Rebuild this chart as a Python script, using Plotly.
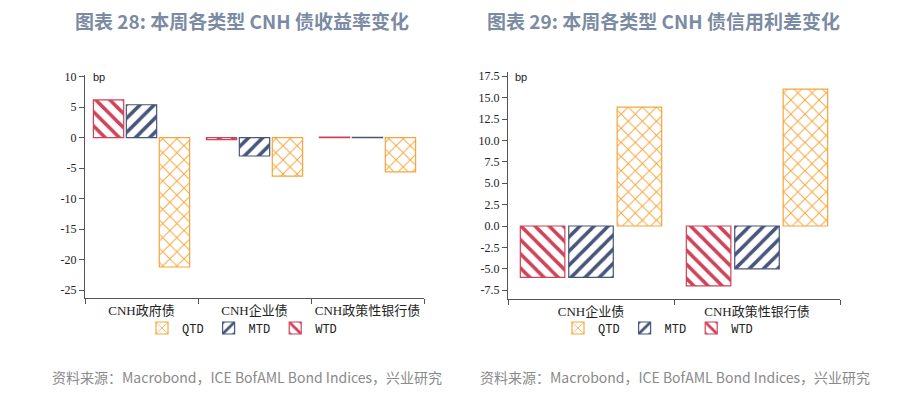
import plotly.graph_objects as go

# ---- data ----
cats_left = ["CNH政府债", "CNH企业债", "CNH政策性银行债"]
wtd_left = [6.2, -0.3, 0.1]
mtd_left = [5.4, -3.0, 0.05]
qtd_left = [-21.2, -6.3, -5.6]

cats_right = ["CNH企业债", "CNH政策性银行债"]
wtd_right = [-6.0, -7.0]
mtd_right = [-6.0, -5.0]
qtd_right = [13.9, 16.0]

left_ticks = [10, 5, 0, -5, -10, -15, -20, -25]
left_ticktext = ["10", "5", "0", "-5", "-10", "-15", "-20", "-25"]
right_ticks = [17.5, 15.0, 12.5, 10.0, 7.5, 5.0, 2.5, 0.0, -2.5, -5.0, -7.5]
right_ticktext = ["17.5", "15.0", "12.5", "10.0", "7.5", "5.0", "2.5", "0.0", "-2.5", "-5.0", "-7.5"]

title_left = "图表 28: 本周各类型 CNH 债收益率变化"
title_right = "图表 29: 本周各类型 CNH 债信用利差变化"
source_text = "资料来源：Macrobond，ICE BofAML Bond Indices，兴业研究"

# ---- layout helpers (page body has an 8px margin) ----
OFF = 8
W, H = 914 - OFF, 393 - OFF


def px(x):
    return (x - OFF) / W


def py(y):
    return 1 - (y - OFF) / H


# ---- styles ----
RED = "#cf4358"
BLUE = "#46557a"
ORANGE = "#f5a53a"
AXIS = "#555555"
SERIF = "Liberation Serif, Noto Sans CJK SC, serif"

series_style = {
    "WTD": (RED, "\\", 10, 0.35),
    "MTD": (BLUE, "/", 10, 0.35),
    "QTD": (ORANGE, "x", 10, 0.18),
}

fig = go.Figure()


def add_bars(cats, vals, name, xa, ya, legend):
    color, shape, size, sol = series_style[name]
    fig.add_trace(go.Bar(
        x=cats, y=vals, name=name, xaxis=xa, yaxis=ya, legend=legend,
        marker=dict(
            color="white",
            line=dict(color=color, width=1.2),
            pattern=dict(shape=shape, fgcolor=color, bgcolor="white", fgopacity=1,
                         size=size, solidity=sol, fillmode="replace"),
        ),
    ))


add_bars(cats_left, wtd_left, "WTD", "x", "y", "legend")
add_bars(cats_left, mtd_left, "MTD", "x", "y", "legend")
add_bars(cats_left, qtd_left, "QTD", "x", "y", "legend")
add_bars(cats_right, wtd_right, "WTD", "x2", "y2", "legend2")
add_bars(cats_right, mtd_right, "MTD", "x2", "y2", "legend2")
add_bars(cats_right, qtd_right, "QTD", "x2", "y2", "legend2")

xaxis_common = dict(
    type="category", showline=True, linecolor=AXIS, linewidth=1,
    ticks="outside", tickson="boundaries", ticklen=5, tickcolor=AXIS,
    showgrid=False, zeroline=False, tickangle=0, automargin=False,
    tickfont=dict(family=SERIF, size=13, color="#222222"),
    fixedrange=True,
)
yaxis_common = dict(
    showline=True, linecolor=AXIS, linewidth=1,
    ticks="outside", ticklen=5, tickcolor=AXIS,
    showgrid=False, zeroline=False, automargin=False,
    tickfont=dict(family=SERIF, size=12, color="#222222"),
    fixedrange=True,
)

LEG_FONT = dict(family="Liberation Mono, monospace", size=12, color="#222222")

fig.update_layout(
    width=W, height=H,
    margin=dict(l=0, r=0, t=0, b=0, autoexpand=False),
    paper_bgcolor="white", plot_bgcolor="white",
    barmode="group", bargap=0.125, bargroupgap=0.08,
    xaxis=dict(domain=[px(85), px(424)], range=[-0.5, 2.5], anchor="y", **xaxis_common),
    yaxis=dict(domain=[py(298.3), py(75)], range=[-26.33, 10.28], anchor="x",
               tickvals=left_ticks, ticktext=left_ticktext, **yaxis_common),
    xaxis2=dict(domain=[px(508), px(840)], range=[-0.5, 1.5], anchor="y2", **xaxis_common),
    yaxis2=dict(domain=[py(299), py(71.7)], range=[-8.53, 18.03], anchor="x2",
                tickvals=right_ticks, ticktext=right_ticktext, **yaxis_common),
    legend=dict(orientation="h", traceorder="reversed", x=px(242), xanchor="center",
                y=py(328), yanchor="middle", itemwidth=30, font=LEG_FONT,
                bgcolor="rgba(0,0,0,0)"),
    legend2=dict(orientation="h", traceorder="reversed", x=px(658), xanchor="center",
                 y=py(328), yanchor="middle", itemwidth=30, font=LEG_FONT,
                 bgcolor="rgba(0,0,0,0)"),
)

TITLE_FONT = dict(family="Noto Sans CJK SC, Noto Sans, sans-serif", size=19, color="#7b8ba3")
SRC_FONT = dict(family="Noto Sans CJK SC, Noto Sans, sans-serif", size=14, color="#8a8a8a")
BP_FONT = dict(family="Liberation Sans, sans-serif", size=11, color="#222222")

annos = [
    dict(text="<b>" + title_left + "</b>", x=px(242), y=py(20), xanchor="center", yanchor="middle",
         font=TITLE_FONT),
    dict(text="<b>" + title_right + "</b>", x=px(663), y=py(20), xanchor="center", yanchor="middle",
         font=TITLE_FONT),
    dict(text=source_text, x=px(50), y=py(377), xanchor="left", yanchor="middle", font=SRC_FONT),
    dict(text=source_text, x=px(478), y=py(377), xanchor="left", yanchor="middle", font=SRC_FONT),
    dict(text="bp", x=px(91), y=py(76.5), xanchor="left", yanchor="middle", font=BP_FONT),
    dict(text="bp", x=px(513), y=py(76.5), xanchor="left", yanchor="middle", font=BP_FONT),
]
for a in annos:
    a.update(xref="paper", yref="paper", showarrow=False)
fig.update_layout(annotations=annos)

fig.write_html("out.html")
